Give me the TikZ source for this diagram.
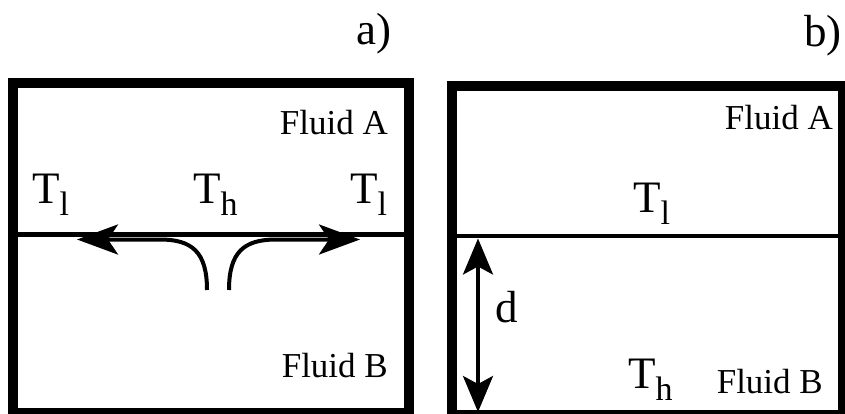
\documentclass[tikz,border=0pt]{standalone}
\usepackage{fontspec}
\setmainfont{Liberation Serif}
\usepackage{tikz}
\usetikzlibrary{arrows.meta,positioning}
\definecolor{wall}{HTML}{000000}
\newcommand{\lowsub}[1]{{\fontsize{34}{34}\selectfont\raisebox{-12pt}{#1}}}

\begin{document}
\begin{tikzpicture}[x=1pt,y=-1pt,
  box/.style={draw=wall,line width=10pt},
  iface/.style={draw=wall,line width=4.5pt},
  flow/.style={draw=wall,line width=4pt,
    -{Stealth[length=41pt,width=30pt,inset=10pt]}},
  gap/.style={draw=wall,line width=3.5pt,
    {Stealth[length=36pt,width=30pt,inset=8pt]}-{Stealth[length=36pt,width=30pt,inset=8pt]}},
  lbl/.style={inner sep=0pt,font=\fontsize{35}{35}\selectfont},
  temp/.style={inner sep=0pt,font=\fontsize{45}{45}\selectfont}]

  \useasboundingbox (0,0) rectangle (845,414);
  \clip (0,0) rectangle (845,414);

  % panel a) : interface with flow spreading out
  \draw[box] (12.5,83.5) rectangle (409,413);
  \draw[iface] (12.5,234.5) -- (409,234.5);
  \node[temp,anchor=base east] (capA) at (392,45) {a)};
  \node[lbl,anchor=base east] (fluidAa) at (388,135) {Fluid A};
  \node[lbl,anchor=base east] (fluidBa) at (388,377) {Fluid B};
  \node[temp,anchor=base west] (coldL) at (32,203) {T\lowsub{l}};
  \node[temp,anchor=base west] (hot) at (193,203) {T\lowsub{h}};
  \node[temp,anchor=base west] (coldR) at (350,203) {T\lowsub{l}};

  \coordinate (srcL) at (207,290);
  \coordinate (srcR) at (229,290);
  \coordinate (tipL) at (77,239.5);
  \coordinate (tipR) at (360,239.5);
  \draw[flow] (srcL) .. controls (207,252) and (192,239.5) .. (160,239.5) -- (tipL);
  \draw[flow] (srcR) .. controls (229,252) and (244,239.5) .. (276,239.5) -- (tipR);

  % panel b) : layer of depth d
  \draw[box] (451.5,86) rectangle (843,415);
  \draw[iface] (451.5,236) -- (843,236);
  \node[temp,anchor=base east] (capB) at (842,47) {b)};
  \node[lbl,anchor=base east] (fluidAb) at (833,130) {Fluid A};
  \node[lbl,anchor=base east] (fluidBb) at (823,393) {Fluid B};
  \node[temp,anchor=base west] (coldB) at (633,212) {T\lowsub{l}};
  \node[temp,anchor=base west] (hotB) at (628,388) {T\lowsub{h}};
  \node[temp,anchor=base west] (depth) at (495,322) {d};

  \coordinate (dTop) at (478,238.5);
  \coordinate (dBot) at (478,412);
  \draw[gap] (dTop) -- (dBot);
\end{tikzpicture}
\end{document}
